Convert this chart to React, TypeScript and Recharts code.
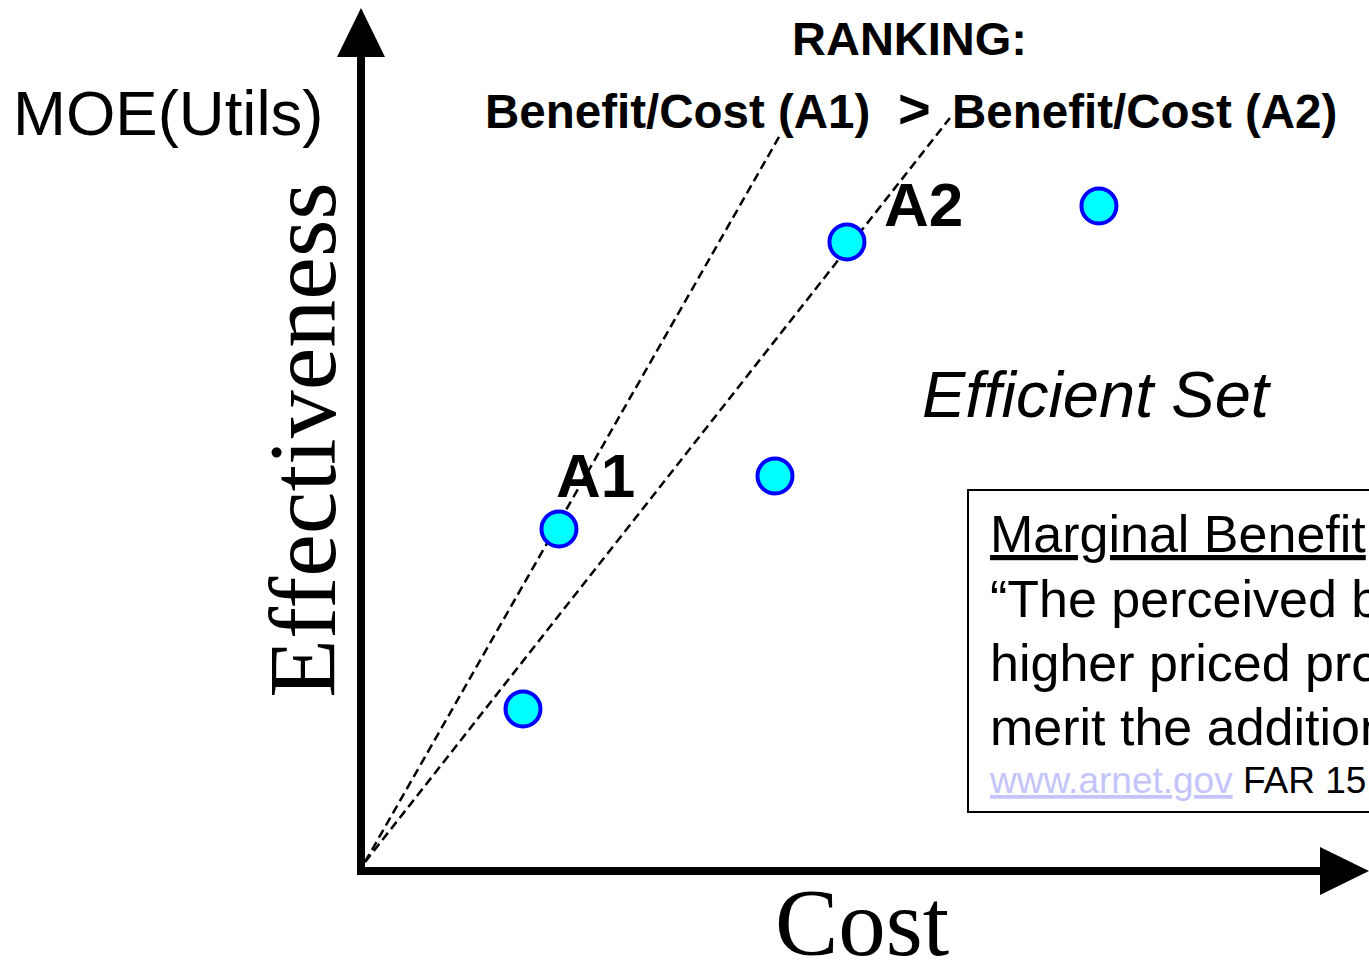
import { ReferenceDot, ReferenceLine, Scatter, ScatterChart, XAxis, YAxis } from "recharts";
import { type JSX } from "react";

// alternatives: cost (x) vs effectiveness (y), domain 0..100 on both axes
const altCost: number[] = [16.07, 19.64, 41.07, 48.21, 73.21];
const altMoe: number[] = [18.84, 39.77, 45.93, 73.14, 77.33];

// benefit/cost rays from the origin through A1 and A2
const rayStart = { x: 0.4, y: 1.05 };
const rayA1End = { x: 41.47, y: 85.35 };
const rayA2End = { x: 58.43, y: 87.56 };

// where the axis shafts stop and the arrow heads begin
const yAxisTop = 94.65;
const xAxisRight = 95.14;

const boxLines: string[] = [
  "\u201CThe perceived benefits of the",
  "higher priced proposal shall",
  "merit the additional cost\u201D",
];

const SANS = "'Liberation Sans', Arial, Helvetica, sans-serif";
const SERIF = "'Liberation Serif', 'Times New Roman', serif";

const points = altCost.map((c, i) => ({ x: c, y: altMoe[i] }));

const Dot = (props: any) => (
  <circle cx={props.cx} cy={props.cy} r={17.5} fill="#00ffff" stroke="#0000ff" strokeWidth={4} />
);

const UpArrow = (props: any) => {
  const { cx, cy } = props;
  return <polygon points={`${cx - 24},${cy} ${cx + 24},${cy} ${cx},${cy - 49}`} fill="#000" />;
};

const RightArrow = (props: any) => {
  const { cx, cy } = props;
  return <polygon points={`${cx},${cy - 24} ${cx},${cy + 24} ${cx + 49},${cy}`} fill="#000" />;
};

const App = (): JSX.Element => {
  return (
    <div style={{ position: "absolute", left: 0, top: 0, width: 1369, height: 961, background: "#fff" }}>
      <ScatterChart width={1369} height={961} margin={{ top: 11, right: 0, bottom: 90, left: 361 }}>
        <XAxis type="number" dataKey="x" domain={[0, 100]} hide />
        <YAxis type="number" dataKey="y" domain={[0, 100]} hide />

        {/* info box, cut by the right edge like the original slide */}
        <rect x={968} y={490} width={420} height={322} fill="#fff" stroke="#000" strokeWidth={2} />
        <text x={990} y={552} fontFamily={SANS} fontSize={52} fill="#000" textDecoration="underline">
          Marginal Benefit
        </text>
        {boxLines.map((line, i) => (
          <text key={line} x={990} y={617 + i * 64} fontFamily={SANS} fontSize={52} fill="#000">
            {line}
          </text>
        ))}
        <text x={990} y={793} fontFamily={SANS} fontSize={37}>
          <tspan fill="#c4c4fa" textDecoration="underline">www.arnet.gov</tspan>
          <tspan fill="#000"> FAR 15.101-1</tspan>
        </text>

        <Scatter data={points} shape={Dot} isAnimationActive={false} />

        <ReferenceLine
          segment={[rayStart, rayA1End]}
          stroke="#000"
          strokeWidth={2.5}
          strokeDasharray="9 5"
          ifOverflow="visible"
        />
        <ReferenceLine
          segment={[rayStart, rayA2End]}
          stroke="#000"
          strokeWidth={2.5}
          strokeDasharray="9 5"
          ifOverflow="visible"
        />

        {/* axes */}
        <ReferenceLine
          segment={[{ x: 0, y: 0 }, { x: 0, y: yAxisTop }]}
          stroke="#000"
          strokeWidth={8}
          strokeLinecap="square"
          ifOverflow="visible"
        />
        <ReferenceLine
          segment={[{ x: 0, y: 0 }, { x: xAxisRight, y: 0 }]}
          stroke="#000"
          strokeWidth={8}
          strokeLinecap="square"
          ifOverflow="visible"
        />
        <ReferenceDot x={0} y={yAxisTop} shape={UpArrow} ifOverflow="visible" />
        <ReferenceDot x={xAxisRight} y={0} shape={RightArrow} ifOverflow="visible" />

        {/* titles and labels */}
        <text x={792} y={55} fontFamily={SANS} fontSize={47} fontWeight="bold" fill="#000">
          RANKING:
        </text>
        <text x={485} y={128} fontFamily={SANS} fontSize={47.5} fontWeight="bold" fill="#000">
          Benefit/Cost (A1)
        </text>
        <text x={898} y={128} fontFamily={SANS} fontSize={56} fontWeight="bold" fill="#000">
          &gt;
        </text>
        <text x={952} y={128} fontFamily={SANS} fontSize={47.5} fontWeight="bold" fill="#000">
          Benefit/Cost (A2)
        </text>
        <text x={13} y={135} fontFamily={SANS} fontSize={63.5} fill="#000">
          MOE(Utils)
        </text>
        <text
          x={335}
          y={440}
          transform="rotate(-90 335 440)"
          textAnchor="middle"
          fontFamily={SERIF}
          fontSize={96}
          fill="#000"
        >
          Effectiveness
        </text>
        <text x={775} y={955} fontFamily={SERIF} fontSize={95} fill="#000">
          Cost
        </text>
        <text x={556} y={497} fontFamily={SANS} fontSize={62} fontWeight="bold" fill="#000">
          A1
        </text>
        <text x={884} y={226} fontFamily={SANS} fontSize={62} fontWeight="bold" fill="#000">
          A2
        </text>
        <text x={922} y={417} fontFamily={SANS} fontSize={65} fontStyle="italic" fill="#000">
          Efficient Set
        </text>
      </ScatterChart>
    </div>
  );
};

export default App;
